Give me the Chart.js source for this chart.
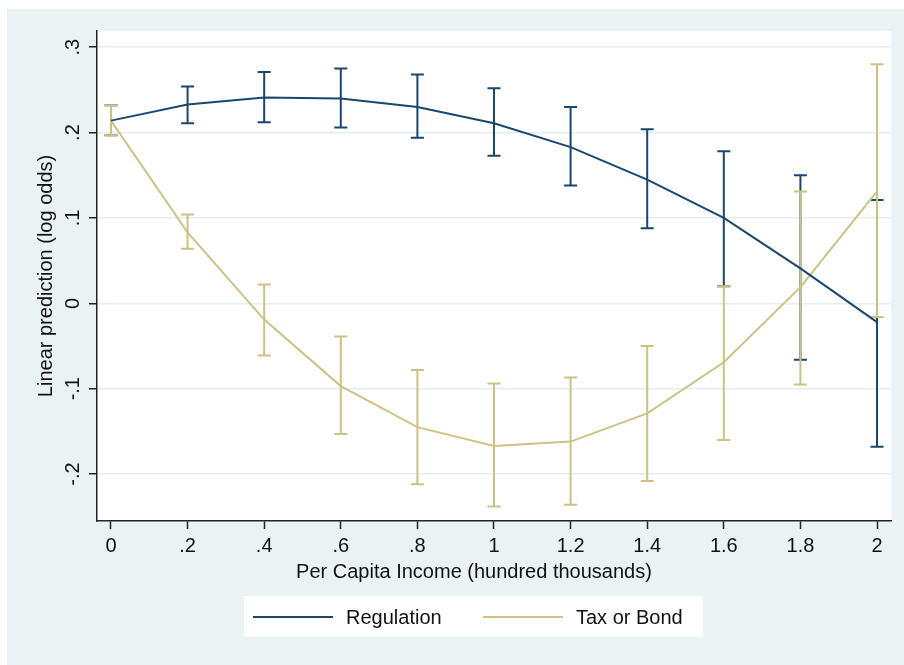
<!DOCTYPE html>
<html>
<head>
<meta charset="utf-8">
<script src="https://cdn.jsdelivr.net/npm/chart.js@4/dist/chart.umd.min.js"></script>
<style>
  html, body { margin: 0; padding: 0; background: #ffffff; }
  #wrap { width: 904px; height: 665px; }
</style>
</head>
<body>
<div id="wrap"><canvas id="chart" width="904" height="665"></canvas></div>
<script>
// Predicted log odds by per capita income (hundred thousands), with 95% CIs
const incomeLevels = [0, 0.2, 0.4, 0.6, 0.8, 1.0, 1.2, 1.4, 1.6, 1.8, 2.0];

const regulationFit   = [0.214, 0.233, 0.241, 0.240, 0.230, 0.211, 0.183, 0.145, 0.100, 0.041, -0.022];
const regulationLower = [0.197, 0.211, 0.212, 0.206, 0.194, 0.173, 0.138, 0.088, 0.020, -0.066, -0.168];
const regulationUpper = [0.232, 0.254, 0.271, 0.275, 0.268, 0.252, 0.230, 0.204, 0.178, 0.150, 0.121];

const taxFit   = [0.214, 0.083, -0.019, -0.097, -0.145, -0.167, -0.162, -0.129, -0.069, 0.019, 0.131];
const taxLower = [0.197, 0.064, -0.061, -0.153, -0.212, -0.238, -0.236, -0.208, -0.160, -0.095, -0.016];
const taxUpper = [0.232, 0.104, 0.022, -0.039, -0.078, -0.094, -0.087, -0.050, 0.020, 0.131, 0.280];

const seriesNames = ['Regulation', 'Tax or Bond'];

const xTickValues = [0, 0.2, 0.4, 0.6, 0.8, 1.0, 1.2, 1.4, 1.6, 1.8, 2.0];
const yTickValues = [-0.2, -0.1, 0, 0.1, 0.2, 0.3];

const xTitle = 'Per Capita Income (hundred thousands)';
const yTitle = 'Linear prediction (log odds)';

const NAVY = '#1a476f';
const KHAKI = '#cdc283';
const PANEL = '#eaf2f3';
const FONT = '"Liberation Sans", Arial, Helvetica, sans-serif';
const TEXT_SIZE = 20;

// Stata-style numbers: drop the leading zero (".2", "-.1")
function stataNum(v) {
  const r = Math.round(v * 10) / 10;
  if (r === 0) return '0';
  return String(r).replace(/^(-?)0\./, '$1.');
}

function toPoints(ys) {
  return incomeLevels.map((x, i) => ({ x: x, y: ys[i] }));
}

const intervals = [
  { lower: regulationLower, upper: regulationUpper, color: NAVY },
  { lower: taxLower, upper: taxUpper, color: KHAKI }
];

// Background panel and white plot region
const backdrop = {
  id: 'backdrop',
  beforeDraw(chart) {
    const ctx = chart.ctx;
    const a = chart.chartArea;
    ctx.save();
    ctx.fillStyle = '#ffffff';
    ctx.fillRect(0, 0, chart.width, chart.height);
    ctx.fillStyle = PANEL;
    ctx.fillRect(7, 9, chart.width - 7, chart.height - 9);
    ctx.fillStyle = '#ffffff';
    ctx.fillRect(a.left, a.top, a.right - a.left, a.bottom - a.top);
    ctx.restore();
  }
};

// Capped confidence intervals at every income level
const capBars = {
  id: 'capBars',
  beforeDatasetsDraw(chart) {
    const ctx = chart.ctx;
    const xs = chart.scales.x, ys = chart.scales.y;
    const half = 6.5;
    ctx.save();
    ctx.lineWidth = 2;
    ctx.lineCap = 'butt';
    intervals.forEach(iv => {
      ctx.strokeStyle = iv.color;
      incomeLevels.forEach((v, i) => {
        const px = xs.getPixelForValue(v);
        const lo = ys.getPixelForValue(iv.lower[i]);
        const hi = ys.getPixelForValue(iv.upper[i]);
        ctx.beginPath();
        ctx.moveTo(px, lo); ctx.lineTo(px, hi);
        ctx.moveTo(px - half, lo); ctx.lineTo(px + half, lo);
        ctx.moveTo(px - half, hi); ctx.lineTo(px + half, hi);
        ctx.stroke();
      });
    });
    ctx.restore();
  }
};

// Rotated y tick labels, axis titles and the legend box
const annotations = {
  id: 'annotations',
  afterDraw(chart) {
    const ctx = chart.ctx;
    const a = chart.chartArea;
    const ys = chart.scales.y;
    ctx.save();
    ctx.fillStyle = '#111111';
    ctx.font = TEXT_SIZE + 'px ' + FONT;
    ctx.textAlign = 'center';
    ctx.textBaseline = 'middle';

    yTickValues.forEach(v => {
      const py = ys.getPixelForValue(v);
      ctx.save();
      ctx.translate(73, py);
      ctx.rotate(-Math.PI / 2);
      ctx.fillText(stataNum(v), 0, 0);
      ctx.restore();
    });

    ctx.save();
    ctx.translate(46, (a.top + a.bottom) / 2);
    ctx.rotate(-Math.PI / 2);
    ctx.fillText(yTitle, 0, 0);
    ctx.restore();

    ctx.fillText(xTitle, 474, 572);

    // legend
    ctx.fillStyle = '#ffffff';
    ctx.fillRect(244, 596, 459, 41);
    const entries = chart.data.datasets.map((d, i) => ({ label: d.label, color: d.borderColor, x: [253, 483][i] }));
    ctx.textAlign = 'left';
    entries.forEach(e => {
      ctx.strokeStyle = e.color;
      ctx.lineWidth = 2;
      ctx.beginPath();
      ctx.moveTo(e.x, 617);
      ctx.lineTo(e.x + 80, 617);
      ctx.stroke();
      ctx.fillStyle = '#111111';
      ctx.fillText(e.label, e.x + 93, 618);
    });
    ctx.restore();
  }
};

new Chart(document.getElementById('chart'), {
  type: 'line',
  data: {
    datasets: [
      { label: seriesNames[0], data: toPoints(regulationFit), borderColor: NAVY, borderWidth: 2, pointRadius: 0, tension: 0, fill: false },
      { label: seriesNames[1], data: toPoints(taxFit), borderColor: KHAKI, borderWidth: 2, pointRadius: 0, tension: 0, fill: false }
    ]
  },
  options: {
    responsive: false,
    animation: false,
    devicePixelRatio: 1,
    layout: { padding: { left: 0, top: 31, right: 13, bottom: 0 } },
    plugins: { legend: { display: false }, title: { display: false }, tooltip: { enabled: false } },
    scales: {
      x: {
        type: 'linear',
        min: -0.0365,
        max: 2.0365,
        afterBuildTicks(scale) { scale.ticks = xTickValues.map(v => ({ value: v })); },
        afterFit(scale) { scale.height = 144; },
        grid: { drawOnChartArea: false, drawTicks: true, tickLength: 8, tickColor: '#222222', tickWidth: 1.5 },
        border: { display: true, color: '#222222', width: 1.5 },
        ticks: {
          autoSkip: false, maxRotation: 0, minRotation: 0, padding: 5,
          color: '#111111', font: { family: FONT, size: TEXT_SIZE },
          callback: v => stataNum(v)
        }
      },
      y: {
        type: 'linear',
        min: -0.255,
        max: 0.319,
        afterBuildTicks(scale) { scale.ticks = yTickValues.map(v => ({ value: v })); },
        afterFit(scale) { scale.width = 97; },
        grid: { drawOnChartArea: true, color: '#e4eef0', lineWidth: 1.5, drawTicks: true, tickLength: 8, tickColor: '#222222', tickWidth: 1.5 },
        border: { display: true, color: '#222222', width: 1.5 },
        ticks: { display: false }
      }
    }
  },
  plugins: [backdrop, capBars, annotations]
});
</script>
</body>
</html>
